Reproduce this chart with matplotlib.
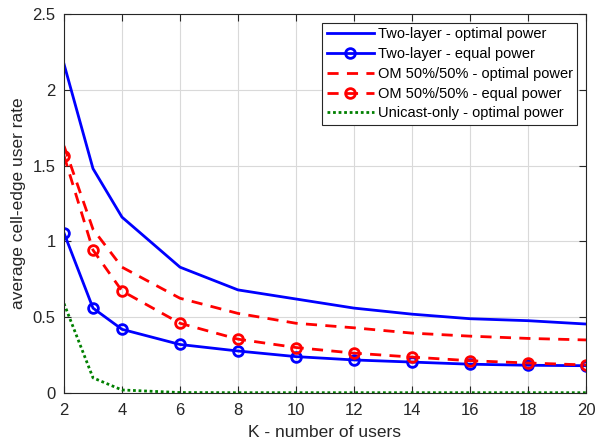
import matplotlib.pyplot as plt
import numpy as np

plt.rcParams['font.family'] = ['Liberation Sans', 'DejaVu Sans']

# 用户数
K = [2, 3, 4, 6, 8, 10, 12, 14, 16, 18, 20]

# 各方案的平均小区边缘用户速率
two_layer_opt = [2.17, 1.48, 1.16, 0.83, 0.68, 0.62, 0.56, 0.52, 0.49, 0.477, 0.455]
two_layer_eq = [1.055, 0.56, 0.42, 0.32, 0.277, 0.24, 0.218, 0.204, 0.19, 0.183, 0.18]
om_opt = [1.63, 1.08, 0.83, 0.625, 0.525, 0.46, 0.43, 0.395, 0.375, 0.36, 0.35]
om_eq = [1.565, 0.943, 0.673, 0.46, 0.355, 0.30, 0.263, 0.237, 0.213, 0.198, 0.185]
unicast_opt = [0.59, 0.10, 0.02, 0.003, 0.002, 0.002, 0.002, 0.002, 0.002, 0.002, 0.002]

labels = ['Two-layer - optimal power', 'Two-layer - equal power',
          'OM 50%/50% - optimal power', 'OM 50%/50% - equal power',
          'Unicast-only - optimal power']

fig = plt.figure(figsize=(6, 4.41), dpi=100)
ax = fig.add_axes([64/600, 1-393/441, (586-64)/600, (393-14)/441])

ax.plot(K, two_layer_opt, color='blue', lw=2, label=labels[0])
ax.plot(K, two_layer_eq, color='blue', lw=2, marker='o', ms=7, mfc='none', mew=2, label=labels[1])
ax.plot(K, om_opt, color='red', lw=2, ls=(0, (4, 3)), label=labels[2])
ax.plot(K, om_eq, color='red', lw=2, ls=(0, (4, 3)), marker='o', ms=7, mfc='none', mew=2, label=labels[3])
ax.plot(K, unicast_opt, color='green', lw=2, ls=(0, (1, 1)), label=labels[4])

ax.set_xlim(2, 20)
ax.set_ylim(0, 2.5)
ax.set_xticks(np.arange(2, 21, 2))
ax.set_yticks([0, 0.5, 1, 1.5, 2, 2.5])
ax.set_yticklabels(['0', '0.5', '1', '1.5', '2', '2.5'])
ax.tick_params(direction='in', labelsize=12, colors='#262626', top=True, right=True, length=5)
ax.tick_params(axis='x', pad=7)
ax.tick_params(axis='y', pad=6)
ax.grid(True, color='#d9d9d9', lw=0.8)
for s in ax.spines.values():
    s.set_color('#262626')

ax.set_xlabel('K - number of users', fontsize=12.5, color='#262626', labelpad=5)
ax.set_ylabel('average cell-edge user rate', fontsize=12.5, color='#262626', labelpad=5)

leg = ax.legend(loc='upper right', fontsize=10.5, fancybox=False, edgecolor='#262626',
                framealpha=1, handlelength=3.2, borderpad=0.3, labelspacing=0.4,
                handletextpad=0.3, borderaxespad=0.6)
leg.get_frame().set_linewidth(0.8)

plt.savefig('out.png', dpi=100)
